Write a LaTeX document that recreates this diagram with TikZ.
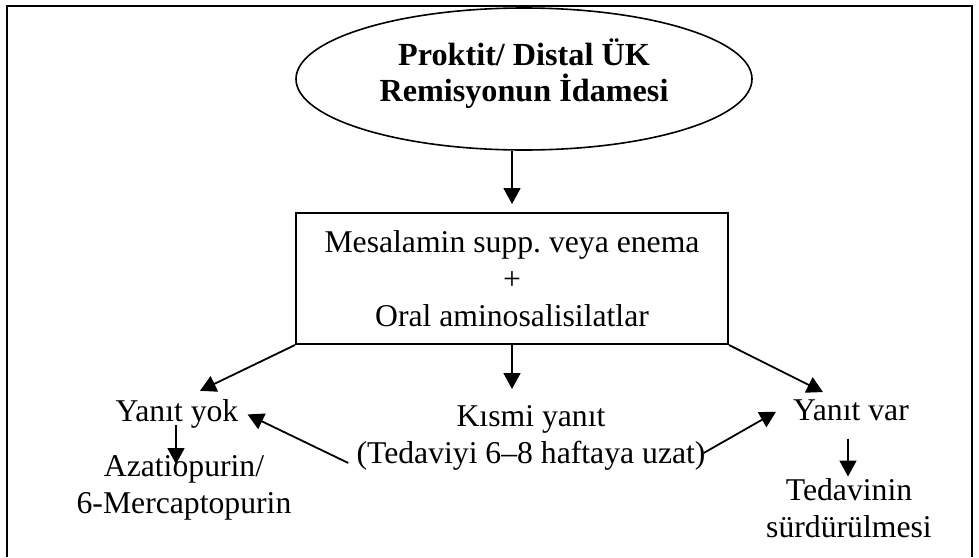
\documentclass[tikz,border=0pt]{standalone}
\usepackage{fontspec}
\setmainfont{Liberation Serif}
\usetikzlibrary{shapes.geometric,arrows.meta,calc}
\frenchspacing
\begin{document}
\begin{tikzpicture}[x=1pt,y=-1pt,
  txt/.style={font=\fontsize{31.7}{37}\selectfont, inner sep=0pt, align=center},
  ttl/.style={font=\fontsize{32.2}{36}\selectfont\bfseries, inner sep=0pt, align=center},
  arr/.style={line width=1.8pt, -{Triangle[length=16pt,width=17pt]}},
  frame/.style={line width=2.3pt},
  ovalshape/.style={ellipse, draw, line width=1.6pt, minimum width=456pt, minimum height=142pt, inner sep=0pt},
  boxshape/.style={draw, line width=2pt, minimum width=432pt, minimum height=131pt}
]
\useasboundingbox (0,0) rectangle (979,557);
\draw[frame] (7,557) -- (7,6) -- (972,6) -- (972,557);

\node[ovalshape] (oval) at (524,79) {};
\node[ttl] (title) at (524,74) {Proktit/ Distal ÜK\\Remisyonun İdamesi};

\node[boxshape, txt] (box) at (512,278.5) {Mesalamin supp. veya enema\\+\\Oral aminosalisilatlar};

\node[txt, anchor=base] (yok) at (177,421) {Yanıt yok};
\node[txt] (kismi) at (531,438) {Kısmi yanıt\\(Tedaviyi 6–8 haftaya uzat)};
\node[txt, anchor=base] (var) at (851,420) {Yanıt var};
\node[txt] (aza) at (184,488) {Azatiopurin/\\6-Mercaptopurin};
\node[txt] (ted) at (849,508) {Tedavinin\\sürdürülmesi};

\draw[arr] (oval.south -| box.north) -- ($(box.north)+(0,-8)$);
\draw[arr] (box.south west) -- ($(yok.north)+(23,-8)$);
\draw[arr] (box.south) -- ($(box.south)+(0,44)$);
\draw[arr] (box.south east) -- ($(var.north)+(-28,-7)$);
\draw[arr] ($(kismi.west)+(-8,25)$) -- ($(yok.east)+(9,1)$);
\draw[arr] ($(kismi.east)+(-2,15)$) -- ($(var.west)+(-17,2)$);
\draw[arr] ($(yok.south)+(-1,-3)$) -- ($(yok.south)+(-1,36)$);
\draw[arr] ($(var.south)+(-3,18)$) -- ($(var.south)+(-3,56)$);
\end{tikzpicture}
\end{document}
